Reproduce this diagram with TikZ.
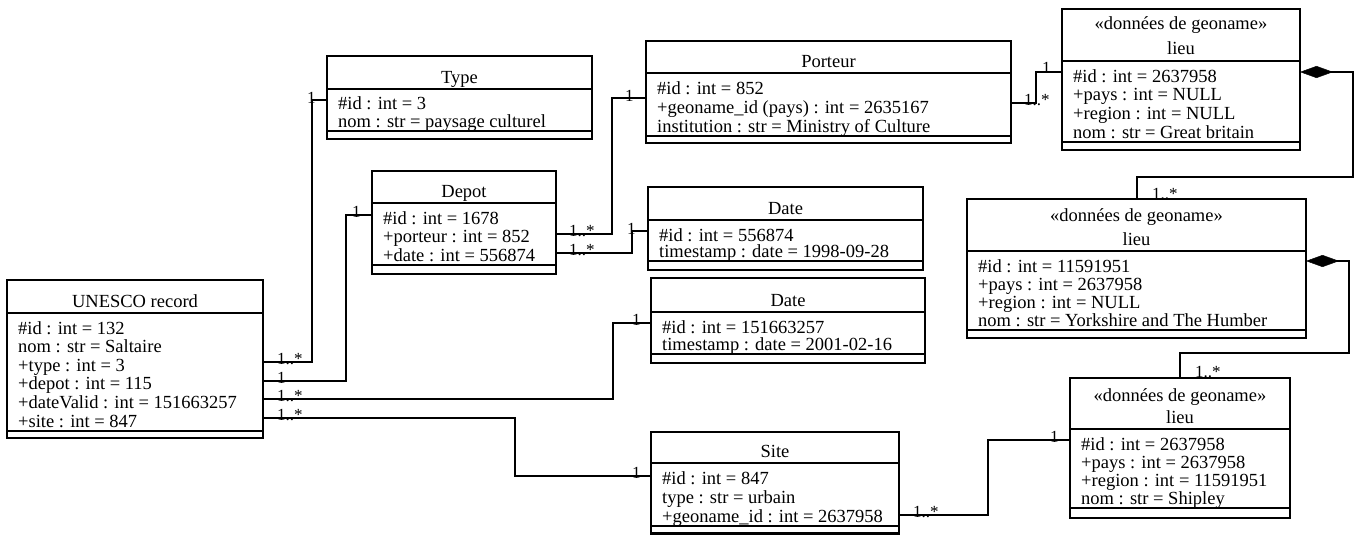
\documentclass[tikz,border=0pt]{standalone}
\usepackage{fontspec}
\setmainfont{Liberation Serif}
\usetikzlibrary{arrows.meta}
\tikzset{
  classbox/.style={draw, line width=2.4pt, rectangle, inner sep=0pt, outer sep=0pt, anchor=north west},
  boxline/.style={line width=2.4pt},
  conn/.style={line width=2.4pt, line join=miter},
  titletext/.style={font=\fontsize{18.5}{18.5}\selectfont, anchor=base, inner sep=0pt},
  attrtext/.style={font=\fontsize{18.5}{18.5}\selectfont, anchor=base west, inner sep=0pt},
  mult/.style={font=\fontsize{17}{17}\selectfont, anchor=base west, inner sep=0pt},
  compo/.style={{Diamond[length=33pt,width=12pt,line width=0.5pt]}-},
}
\newcommand\umlbox[7]{%
  \node[classbox, minimum width={(#4-#2)*1pt}, minimum height={(#5-#3)*1pt}] (#1) at (#2,#3) {};
  \draw[boxline] (#1.west |- 0,#6) -- (#1.east |- 0,#6);
  \draw[boxline] (#1.west |- 0,#7) -- (#1.east |- 0,#7);
}
\newcommand\umlattrs[5]{%
  \foreach \txt [count=\k] in {#5} {
    \node[attrtext] (#1-a\k) at ({#2}, {#3+(\k-1)*#4}) {\txt};
  }
}
\begin{document}
\begin{tikzpicture}[x=1pt, y=-1pt]
\useasboundingbox (0,0) rectangle (1357,535);

% UNESCO record
\umlbox{unesco}{7}{280}{263}{438}{313}{431}
\node[titletext] (unesco-t) at (135,307) {UNESCO record};
\umlattrs{unesco}{18}{334}{18.6}{{\#id : int = 132},{nom : str = Saltaire},{+type : int = 3},{+depot : int = 115},{+dateValid : int = 151663257},{+site : int = 847}}

% Type
\umlbox{type}{327}{56}{592}{139}{89}{131}
\node[titletext] (type-t) at (459.5,83) {Type};
\umlattrs{type}{338}{110}{17}{{\#id : int = 3},{nom : str = paysage culturel}}

% Depot
\umlbox{depot}{372}{171}{556}{274}{203}{265}
\node[titletext] (depot-t) at (464,197) {Depot};
\umlattrs{depot}{383}{224}{18.5}{{\#id : int = 1678},{+porteur : int = 852},{+date : int = 556874}}

% Porteur
\umlbox{porteur}{646}{41}{1011}{143}{73}{136}
\node[titletext] (porteur-t) at (828.5,67) {Porteur};
\umlattrs{porteur}{657}{94}{19}{{\#id : int = 852},{+geoname\_id (pays) : int = 2635167},{institution : str = Ministry of Culture}}

% Date 1
\umlbox{date1}{648}{187}{923}{270}{220}{261}
\node[titletext] (date1-t) at (785.5,214) {Date};
\umlattrs{date1}{659}{241}{16}{{\#id : int = 556874},{timestamp : date = 1998-09-28}}

% Date 2
\umlbox{date2}{651}{278}{925}{363}{312}{354}
\node[titletext] (date2-t) at (788,306) {Date};
\umlattrs{date2}{662}{333}{17}{{\#id : int = 151663257},{timestamp : date = 2001-02-16}}

% Site
\umlbox{site}{651}{432}{899}{533.5}{463}{526}
\node[titletext] (site-t) at (775,457) {Site};
\umlattrs{site}{662}{484}{19}{{\#id : int = 847},{type : str = urbain},{+geoname\_id : int = 2637958}}

% lieu 1
\umlbox{lieu1}{1062}{9}{1300}{150}{61}{142}
\node[titletext] (lieu1-s) at (1181,30) {«données de geoname»};
\node[titletext] (lieu1-t) at (1181,55) {lieu};
\umlattrs{lieu1}{1073}{82}{18.7}{{\#id : int = 2637958},{+pays : int = NULL},{+region : int = NULL},{nom : str = Great britain}}

% lieu 2
\umlbox{lieu2}{967}{199}{1306}{338}{251}{330}
\node[titletext] (lieu2-s) at (1136.5,221) {«données de geoname»};
\node[titletext] (lieu2-t) at (1136.5,245) {lieu};
\umlattrs{lieu2}{978}{272}{18}{{\#id : int = 11591951},{+pays : int = 2637958},{+region : int = NULL},{nom : str = Yorkshire and The Humber}}

% lieu 3
\umlbox{lieu3}{1070}{378}{1290}{518}{429}{508}
\node[titletext] (lieu3-s) at (1180,401) {«données de geoname»};
\node[titletext] (lieu3-t) at (1180,423) {lieu};
\umlattrs{lieu3}{1081}{450}{18}{{\#id : int = 2637958},{+pays : int = 2637958},{+region : int = 11591951},{nom : str = Shipley}}

% connectors
\draw[conn] (unesco.east |- 0,362) -- (312,362) -- (312,100) -- (type.west |- 0,100);
\draw[conn] (unesco.east |- 0,381) -- (346,381) -- (346,215) -- (depot.west |- 0,215);
\draw[conn] (unesco.east |- 0,399) -- (613,399) -- (613,323) -- (date2.west |- 0,323);
\draw[conn] (unesco.east |- 0,418) -- (515,418) -- (515,476) -- (site.west |- 0,476);
\draw[conn] (depot.east |- 0,234) -- (612,234) -- (612,98) -- (porteur.west |- 0,98);
\draw[conn] (depot.east |- 0,253) -- (632,253) -- (632,231) -- (date1.west |- 0,231);
\draw[conn] (porteur.east |- 0,103) -- (1036,103) -- (1036,72) -- (lieu1.west |- 0,72);
\draw[conn] (site.east |- 0,515) -- (988,515) -- (988,440) -- (lieu3.west |- 0,440);
\draw[conn, compo] (lieu1.east |- 0,72) -- (1353,72) -- (1353,177) -- (1137,177) -- (lieu2.north -| 1137,0);
\draw[conn, compo] (lieu2.east |- 0,261) -- (1349,261) -- (1349,353) -- (1180,353) -- (lieu3.north -| 1180,0);

% multiplicities
\node[mult] (m1) at (277,364.5) {1..*};
\node[mult] (m2) at (277,383.5) {1};
\node[mult] (m3) at (277,401.5) {1..*};
\node[mult] (m4) at (277,420.5) {1..*};
\node[mult] (m5) at (307,103) {1};
\node[mult] (m6) at (352,217) {1};
\node[mult] (m7) at (625,101) {1};
\node[mult] (m8) at (569,236) {1..*};
\node[mult] (m9) at (569,255) {1..*};
\node[mult] (m10) at (627,234) {1};
\node[mult] (m11) at (1024,105) {1..*};
\node[mult] (m12) at (1042,74) {1};
\node[mult] (m13) at (1152,199) {1..*};
\node[mult] (m14) at (1195,377) {1..*};
\node[mult] (m15) at (1050,442) {1};
\node[mult] (m16) at (632,325) {1};
\node[mult] (m17) at (632,478) {1};
\node[mult] (m18) at (913,517) {1..*};
\end{tikzpicture}
\end{document}
